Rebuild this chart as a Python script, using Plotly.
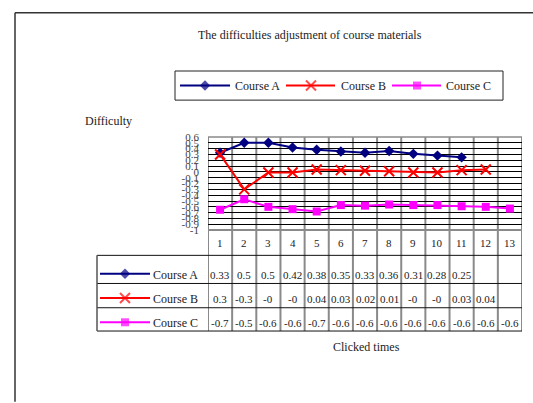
import plotly.graph_objects as go

W, H = 533, 403
FONT = "Liberation Serif, Times New Roman, serif"
TXT = "#222222"

categories = list(range(1, 14))
series_names = ["Course A", "Course B", "Course C"]
course_a = [0.33, 0.50, 0.50, 0.42, 0.38, 0.35, 0.33, 0.36, 0.31, 0.28, 0.25]
course_b = [0.30, -0.30, -0.01, -0.01, 0.04, 0.03, 0.02, 0.01, -0.01, -0.01, 0.03, 0.04]
course_c = [-0.65, -0.47, -0.60, -0.64, -0.68, -0.57, -0.58, -0.56, -0.57, -0.57, -0.59, -0.60, -0.63]
y_ticks = [round(-1 + 0.1 * i, 1) for i in range(17)]

colors = ["#000080", "#FF0000", "#FF00FF"]
symbols = ["diamond", "x-thin", "square"]
msizes = [8, 10, 8]
values = [course_a, course_b, course_c]


def px(x):
    return x / W


def py(y):
    return 1 - y / H


def fmt(v):
    s = f"{round(v, 2):.2f}".rstrip("0").rstrip(".")
    if len(s) > 4:
        s = f"{round(v, 1):.1f}".rstrip("0").rstrip(".")
    if s in ("-0", "0") and v < 0:
        s = "-0"
    return s


def fmt_tick(v):
    s = f"{v:.1f}".rstrip("0").rstrip(".")
    return "0" if s in ("-0", "0") else s


# plot area in pixels
PL, PR, PT, PB = 208, 522, 135, 231
TB = 335
row_lines = [257, 286, 311]
row_text_y = [277, 302, 327]

fig = go.Figure()

for name, vals, col, sym, ms in zip(series_names, values, colors, symbols, msizes):
    fig.add_trace(go.Scatter(
        x=categories[:len(vals)], y=vals, name=name, mode="lines+markers",
        line=dict(color=col, width=2),
        marker=dict(symbol=sym, size=ms, color=col, line=dict(color=col, width=2 if sym == "x-thin" else 0)),
        showlegend=False, xaxis="x", yaxis="y"))

# legend keys (top legend box and table keys) on a pixel overlay axis
legend_keys = [(180, 205, 230, 233), (286, 311, 335, 339), (392, 417, 441, 444)]
legend_y = 82
for i, (name, col, sym, ms) in enumerate(zip(series_names, colors, symbols, msizes)):
    x0, xm, x1, xt = legend_keys[i]
    for (a, m, b, yy) in [(x0, xm, x1, legend_y), (100, 125, 150, row_text_y[i] - 1)]:
        fig.add_trace(go.Scatter(
            x=[a, m, b], y=[yy, yy, yy], mode="lines+markers",
            line=dict(color=col, width=2),
            marker=dict(symbol=sym, size=[0, ms, 0], color=col,
                        line=dict(color=col, width=2 if sym == "x-thin" else 0)),
            showlegend=False, hoverinfo="skip", xaxis="x2", yaxis="y2"))

shapes = []
# outer frame
shapes.append(dict(type="line", xref="paper", yref="paper", x0=px(15), x1=px(15), y0=py(7), y1=py(H + 5),
                   line=dict(color="#333333", width=1.5)))
shapes.append(dict(type="line", xref="paper", yref="paper", x0=px(15), x1=px(W + 5), y0=py(7), y1=py(7),
                   line=dict(color="#333333", width=1.5)))
# legend box
shapes.append(dict(type="rect", xref="paper", yref="paper", x0=px(175), x1=px(503), y0=py(67), y1=py(97),
                   line=dict(color="#222222", width=1)))
# table horizontal lines
for yy in row_lines + [TB]:
    shapes.append(dict(type="line", xref="paper", yref="paper", x0=px(97), x1=px(PR), y0=py(yy), y1=py(yy),
                       line=dict(color="#111111", width=1)))
# table left border
shapes.append(dict(type="line", xref="paper", yref="paper", x0=px(97), x1=px(97), y0=py(row_lines[0]), y1=py(TB),
                   line=dict(color="#555555", width=1.5)))
# column lines through plot and table
for b in [c - 0.5 for c in categories] + [categories[-1] + 0.5]:
    shapes.append(dict(type="line", xref="x", yref="paper", x0=b, x1=b, y0=py(PT), y1=py(TB),
                       line=dict(color="#8a8a8a", width=2), layer="below"))
# plot bottom line (header top)
shapes.append(dict(type="line", xref="paper", yref="paper", x0=px(PL), x1=px(PR), y0=py(PB), y1=py(PB),
                   line=dict(color="#8a8a8a", width=2)))
# plot top line
shapes.append(dict(type="line", xref="paper", yref="paper", x0=px(PL), x1=px(PR), y0=py(PT), y1=py(PT),
                   line=dict(color="#8a8a8a", width=1.5), layer="below"))


def ann(text, x, y, xref="paper", xanchor="center", size=12):
    return dict(text=text, x=x, y=y, xref=xref, yref="paper", xanchor=xanchor, yanchor="middle",
                showarrow=False, font=dict(size=size))


annotations = []
annotations.append(ann("The difficulties adjustment of course materials", px(310), py(30)))
annotations.append(ann("Difficulty", px(83), py(119), xanchor="left"))
annotations.append(ann("Clicked times", px(366), py(351)))
for i, name in enumerate(series_names):
    xt = legend_keys[i][3]
    annotations.append(ann(name, px(xt), py(legend_y), xanchor="left"))
    annotations.append(ann(name, px(151), py(row_text_y[i]), xanchor="left"))
# header numbers
for c in categories:
    annotations.append(ann(str(c), c, py(244), xref="x", size=11))
# table values
for i, vals in enumerate(values):
    for c, v in zip(categories, vals):
        annotations.append(ann(fmt(v), c, py(row_text_y[i]), xref="x", size=11))

fig.update_layout(
    width=W, height=H,
    margin=dict(l=0, r=0, t=0, b=0),
    paper_bgcolor="white", plot_bgcolor="rgba(0,0,0,0)",
    font=dict(family=FONT, color=TXT, size=12),
    showlegend=False,
    xaxis=dict(domain=[px(PL), px(PR)], range=[0.5, 13.5], showgrid=False, zeroline=False,
               showticklabels=False, showline=False, fixedrange=True),
    yaxis=dict(domain=[py(PB), py(PT)], range=[-1, 0.6], tickvals=y_ticks,
               ticktext=[fmt_tick(v) for v in y_ticks], showgrid=True, gridcolor="#000000", gridwidth=1,
               zeroline=False, showline=False, ticks="", ticklabelstandoff=8,
               tickfont=dict(size=11, color="#444444"), fixedrange=True),
    xaxis2=dict(domain=[0, 1], range=[0, W], visible=False, fixedrange=True, anchor="y2"),
    yaxis2=dict(domain=[0, 1], range=[H, 0], visible=False, fixedrange=True, anchor="x2"),
    shapes=shapes,
    annotations=annotations,
)

fig.write_html("out.html", config={"displayModeBar": False},
               post_script="document.body.style.margin='0';document.body.style.overflow='hidden';")
